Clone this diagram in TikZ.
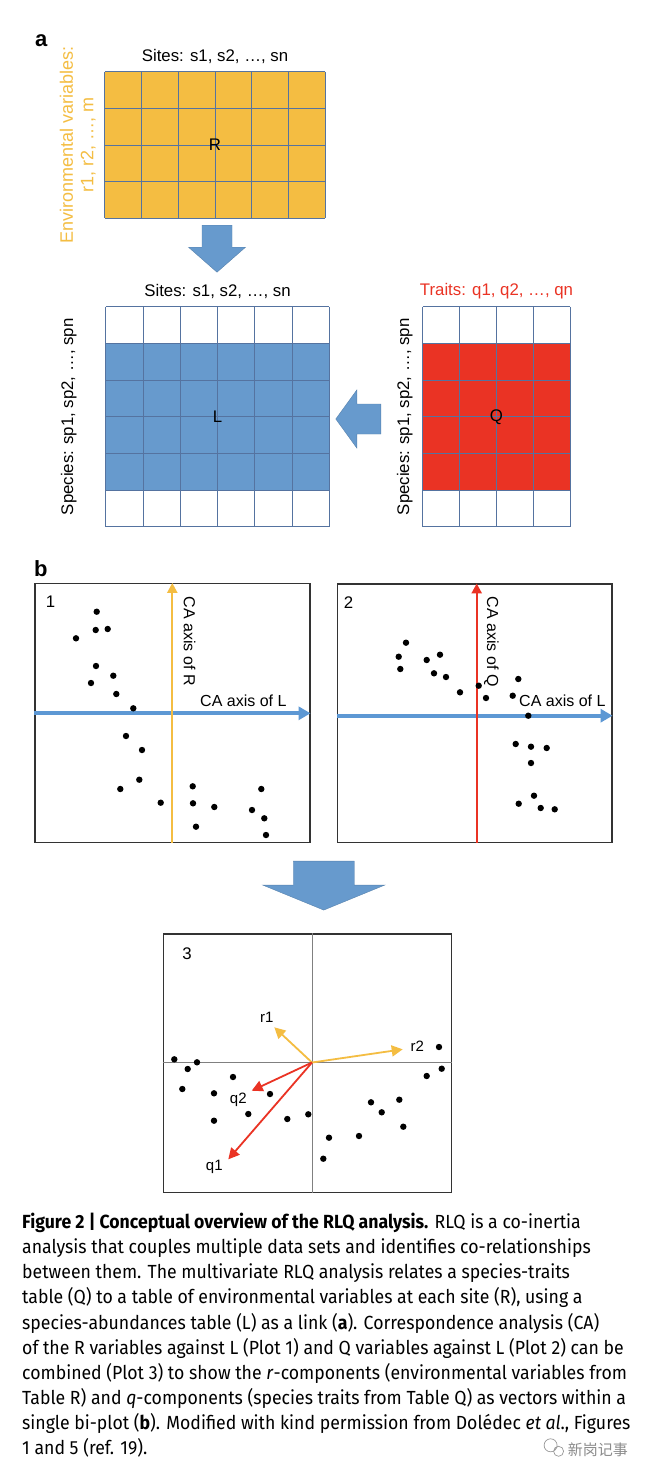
\documentclass[tikz,border=0pt]{standalone}
\usepackage{fontspec}
\setmainfont{Liberation Sans}
\newfontfamily\capfont[FakeStretch=0.93]{Fira Sans}
\newfontfamily\cjkfont{Noto Sans CJK SC}
\usepackage{tikz}
\usetikzlibrary{positioning,calc,arrows.meta}
\definecolor{rYellow}{RGB}{244,189,66}
\definecolor{lBlue}{RGB}{103,154,205}
\definecolor{qRed}{RGB}{234,51,36}
\definecolor{gridc}{RGB}{85,115,160}
\definecolor{axisBlue}{RGB}{93,152,212}

\begin{document}
\begin{tikzpicture}[x=1pt,y=-1pt,>={Triangle[length=10pt,width=10pt]},
    every node/.style={font=\fontsize{16.8}{19}\selectfont},
    tbl/.style={rectangle,inner sep=0pt},
    lbl/.style={inner sep=0pt},
    plot/.style={rectangle,draw=black!80,line width=1.1pt,inner sep=0pt},
    blockarrow/.style={fill=lBlue,draw=lBlue!85!black,line width=0.4pt},
    vec/.style={->,line width=1.8pt,>={Triangle[length=11pt,width=11pt]}},
    vlbl/.style={inner sep=0pt,font=\fontsize{15}{15}\selectfont}]
  \useasboundingbox[fill=white] (0,0) rectangle (646,1478);

  % panel a
  \node[lbl,anchor=base west,font=\bfseries\fontsize{22}{22}\selectfont] (pa) at (35,46.7) {a};
  \node[tbl,fill=rYellow,minimum width=220pt,minimum height=146pt] (R) at (215,145) {};
  \foreach \k in {0,...,6}
    \draw[gridc,line width=0.8pt] ($(R.north west)!\k/6!(R.north east)$) -- ($(R.south west)!\k/6!(R.south east)$);
  \foreach \k in {0,...,4}
    \draw[gridc,line width=0.8pt] ($(R.north west)!\k/4!(R.south west)$) -- ($(R.north east)!\k/4!(R.south east)$);
  \node at (R) {R};
  \node[lbl,above=8pt of R] (Rtop) {Sites: s1, s2, …, sn};
  \node[lbl,left=9pt of R,anchor=south,rotate=90,text=rYellow,align=center,font=\fontsize{18}{20.5}\selectfont] (Rside) {Environmental variables:\\r1, r2, …, m};

  \coordinate (d1) at ($(R.south)+(2,7)$);
  \path[blockarrow] (d1) ++(-15,0) -- ++(30,0) -- ++(0,22) -- ++(13.5,0) -- ++(-28.5,25) -- ++(-28.5,-25) -- ++(13.5,0) -- cycle;

  \node[tbl,minimum width=223pt,minimum height=219.5pt] (L) at (217.5,416.8) {};
  \fill[lBlue] ($(L.north west)!1/6!(L.south west)$) rectangle ($(L.north east)!5/6!(L.south east)$);
  \foreach \k in {0,...,6} {
    \draw[gridc,line width=0.8pt] ($(L.north west)!\k/6!(L.north east)$) -- ($(L.south west)!\k/6!(L.south east)$);
    \draw[gridc,line width=0.8pt] ($(L.north west)!\k/6!(L.south west)$) -- ($(L.north east)!\k/6!(L.south east)$);
  }
  \node at (L) {L};
  \node[lbl,above=8pt of L] (Ltop) {Sites: s1, s2, …, sn};
  \node[lbl,left=29pt of L,anchor=south,rotate=90] (Lside) {Species: sp1, sp2, …, spn};

  \node[tbl,minimum width=147pt,minimum height=219.5pt] (Q) at (496.5,416.8) {};
  \fill[qRed] ($(Q.north west)!1/6!(Q.south west)$) rectangle ($(Q.north east)!5/6!(Q.south east)$);
  \foreach \k in {0,...,4}
    \draw[gridc,line width=0.8pt] ($(Q.north west)!\k/4!(Q.north east)$) -- ($(Q.south west)!\k/4!(Q.south east)$);
  \foreach \k in {0,...,6}
    \draw[gridc,line width=0.8pt] ($(Q.north west)!\k/6!(Q.south west)$) -- ($(Q.north east)!\k/6!(Q.south east)$);
  \node at (Q) {Q};
  \node[lbl,above=8pt of Q,text=qRed] (Qtop) {Traits: q1, q2, …, qn};
  \node[lbl,left=10pt of Q,anchor=south,rotate=90] (Qside) {Species: sp1, sp2, …, spn};

  \coordinate (d2) at ($(Q.west)+(-42,2.2)$);
  \path[blockarrow] (d2) ++(0,-15) -- ++(-24,0) -- ++(0,-14) -- ++(-21,29) -- ++(21,29) -- ++(0,-14) -- ++(24,0) -- cycle;

  % panel b
  \node[lbl,anchor=base west,font=\bfseries\fontsize{22}{22}\selectfont] (pb) at (34,576) {b};

  \node[plot,minimum width=275pt,minimum height=259pt] (P1) at (172.5,713) {};
  \node[lbl] at ($(P1.north west)+(16,19)$) {1};
  \coordinate (o1) at (172.3,713.3);
  \draw[axisBlue,line width=3.8pt,-{Triangle[length=12pt,width=13pt]}] (o1 -| P1.west) -- (o1 -| P1.east);
  \draw[rYellow,line width=2.2pt,->] (o1 |- P1.south) -- (o1 |- P1.north);
  \node[lbl,rotate=-90,anchor=base west,font=\fontsize{16}{16}\selectfont] at ($(o1 |- P1.north)+(11.5,13.5)$) {CA axis of R};
  \node[lbl,anchor=base west,font=\fontsize{16}{16}\selectfont] at ($(o1)+(27.7,-7.3)$) {CA axis of L};
  \foreach \px/\py in {96.7/611.7,95.7/630,107.7/629,76/638.3,96/666,113.3/675.7,91/683,116.3/694,
      133.3/708.3,126/736,142/750,139.3/779.7,120.3/789,160.7/802.7,192.7/786.3,193/803.3,
      214.3/807,196/826.7,261.3/789,252/810,264.3/818.3,266/835}
    \fill (\px,\py) circle (3.2);

  \node[plot,minimum width=274.5pt,minimum height=258.5pt] (P2) at (474.75,713.25) {};
  \node[lbl] at ($(P2.north west)+(11.5,19)$) {2};
  \coordinate (o2) at (476.7,715.7);
  \draw[axisBlue,line width=3.8pt,-{Triangle[length=12pt,width=13pt]}] (o2 -| P2.west) -- (o2 -| P2.east);
  \draw[qRed,line width=2.4pt,->] (o2 |- P2.south) -- (o2 |- P2.north);
  \node[lbl,rotate=-90,anchor=base west,font=\fontsize{16}{16}\selectfont] at ($(o2 |- P2.north)+(10.5,13)$) {CA axis of Q};
  \node[lbl,anchor=base west,font=\fontsize{16}{16}\selectfont] at ($(o2)+(42.3,-9.7)$) {CA axis of L};
  \foreach \px/\py in {406/642.7,398.7/656.7,400.3/669,426.7/660,440/654.7,434/673.3,446/677,
      460/692.3,478.7/685.7,486/698,518.3/679,512.7/695.7,528.3/715.7,515.7/744,531/746.7,
      546.7/748,531/763,534/795.7,518.7/803.7,540.7/808,554.7/809.3}
    \fill (\px,\py) circle (3.2);

  \coordinate (d3) at ($(P1.south east)!0.5!(P2.south west)+(0,18)$);
  \path[blockarrow] (d3) ++(-30.5,0) -- ++(61,0) -- ++(0,24) -- ++(30.5,0) -- ++(-61,25) -- ++(-61,-25) -- ++(30.5,0) -- cycle;

  \node[plot,minimum width=288pt,minimum height=258.5pt] (P3) at (307.5,1063.25) {};
  \node[lbl] at ($(P3.north west)+(24,20.3)$) {3};
  \coordinate (o3) at (312,1062.5);
  \draw[black!50,line width=1pt] (o3 -| P3.west) -- (o3 -| P3.east);
  \draw[black!50,line width=1pt] (o3 |- P3.south) -- (o3 |- P3.north);
  \foreach \px/\py in {174.3/1059.3,187.7/1069,197/1062.3,182.3/1089,233/1077,214/1093.3,270/1094,
      248.3/1114,214/1120.7,287.3/1119,308.3/1114.3,329/1137.7,323.3/1158.7,359/1136,371/1102.3,
      381.7/1112.3,399.3/1099.7,403.3/1126.7,426.7/1076,439/1047,441.7/1068.7}
    \fill (\px,\py) circle (3.2);
  \coordinate (r1tip) at (274.3,1027.3);
  \coordinate (r2tip) at (402.7,1049.3);
  \coordinate (q1tip) at (228.3,1159.3);
  \coordinate (q2tip) at (251.7,1090.7);
  \draw[vec,rYellow] (o3) -- (r1tip);
  \draw[vec,rYellow] (o3) -- (r2tip);
  \draw[vec,qRed] (o3) -- (q2tip);
  \draw[vec,qRed] (o3) -- (q1tip);
  \node[vlbl] (r1) at (266.7,1017.7) {r1};
  \node[vlbl] (r2) at (417.3,1046) {r2};
  \node[vlbl] (q2) at (238.3,1100.3) {q2};
  \node[vlbl] (q1) at (214.3,1167.3) {q1};

  % caption
  \node[inner sep=0pt,anchor=north west,align=left,font=\capfont\fontsize{19}{25.1}\selectfont] (cap) at (22,1213)
    {\textbf{Figure 2 | Conceptual overview of the RLQ analysis.} RLQ is a co-inertia\\
     analysis that couples multiple data sets and identifies co-relationships\\
     between them. The multivariate RLQ analysis relates a species-traits\\
     table (Q) to a table of environmental variables at each site (R), using a\\
     species-abundances table (L) as a link (\textbf{a}). Correspondence analysis (CA)\\
     of the R variables against L (Plot 1) and Q variables against L (Plot 2) can be\\
     combined (Plot 3) to show the \textit{r}-components (environmental variables from\\
     Table R) and \textit{q}-components (species traits from Table Q) as vectors within a\\
     single bi-plot (\textbf{b}). Modified with kind permission from Dolédec \textit{et al}., Figures\\
     1 and 5 (ref. 19).};
  \node[inner sep=0pt,anchor=base east,text=black!45,font=\cjkfont\fontsize{15}{15}\selectfont] (wm) at (628,1455) {新岗记事};
  \draw[black!40,line width=0.7pt] ($(wm.west)+(-17,-4)$) circle (6.5) ($(wm.west)+(-9,2)$) circle (5);
\end{tikzpicture}
\end{document}
